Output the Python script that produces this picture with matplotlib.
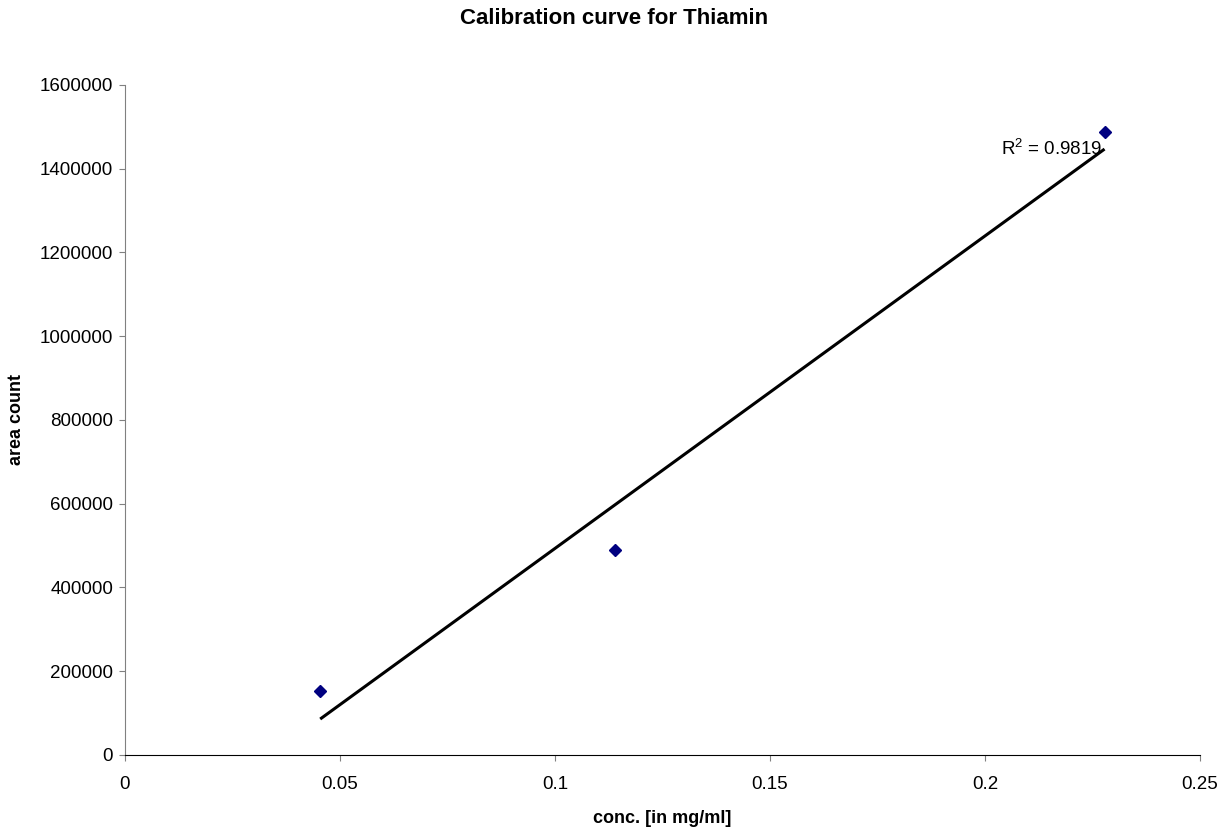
import numpy as np
import matplotlib
matplotlib.use("Agg")
import matplotlib.pyplot as plt

plt.rcParams['font.family'] = ['Liberation Sans', 'DejaVu Sans']
plt.rcParams['mathtext.fontset'] = 'custom'
plt.rcParams['mathtext.rm'] = 'Liberation Sans'
plt.rcParams['mathtext.it'] = 'Liberation Sans'

# calibration standards
conc = [0.0454, 0.1140, 0.2278]
area = [153000, 490000, 1487500]
r2_text = "R$^2$ = 0.9819"

xticks = [0, 0.05, 0.1, 0.15, 0.2, 0.25]
xlabels = ["0", "0.05", "0.1", "0.15", "0.2", "0.25"]
yticks = [0, 200000, 400000, 600000, 800000, 1000000, 1200000, 1400000, 1600000]

fig = plt.figure(figsize=(12.24, 8.3), dpi=100)
ax = fig.add_axes([0.1021, 0.0904, 0.8783, 0.8072])

# linear trendline through the standards
slope, icpt = np.polyfit(conc, area, 1)
xfit = np.array([min(conc), max(conc)])
ax.plot(xfit, slope * xfit + icpt, color='black', lw=2.2, solid_capstyle='butt', zorder=2)

ax.plot(conc, area, linestyle='', marker='D', markersize=6, color='#000080', zorder=3)

ax.text(max(conc) - 0.0005, slope * max(conc) + icpt, r2_text, ha='right', va='center', fontsize=13.5)

ax.set_xlim(0, 0.25)
ax.set_ylim(0, 1600000)
ax.set_xticks(xticks)
ax.set_xticklabels(xlabels)
ax.set_yticks(yticks)
ax.set_yticklabels([str(v) for v in yticks])
ax.tick_params(axis='both', direction='out', length=4.5, labelsize=13.5, color='#808080')
ax.tick_params(axis='x', pad=11)
ax.tick_params(axis='y', pad=4)

for s in ['top', 'right']:
    ax.spines[s].set_visible(False)
ax.spines['left'].set_color('#808080')
ax.spines['bottom'].set_color('black')

ax.set_xlabel("conc. [in mg/ml]", fontsize=13, fontweight='bold', labelpad=12)
ax.set_ylabel("area count", fontsize=13, fontweight='bold', labelpad=11)
fig.suptitle("Calibration curve for Thiamin", fontsize=16, fontweight='bold', y=0.99, x=0.5016)

fig.savefig("out.png", dpi=100)
